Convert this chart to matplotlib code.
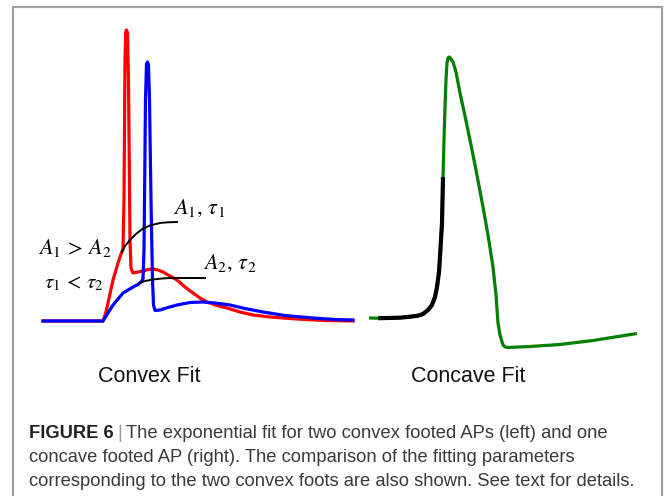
#!/usr/bin/env python3
"""Exponential fits to convex and concave AP feet (Figure 6 redraw)."""

import matplotlib

matplotlib.use("Agg")
import matplotlib.pyplot as plt
from matplotlib import font_manager
from matplotlib.patches import Rectangle

# left panel: time (a.u.) and height above rest (a.u.)
red_t = [0, 60, 63, 65, 70, 75, 78, 80, 81, 82, 82.7, 83.5, 84.5, 85.5, 87, 88, 90,
         95, 100, 105, 110, 115, 120, 127, 134, 142, 150, 157, 164, 174, 184, 197,
         210, 227, 254, 282, 310]
red_v = [0, 0, 9, 18, 41, 58, 67, 72, 121, 261, 289, 291, 288, 241, 81, 53, 48,
         49, 50, 51.5, 52, 51, 49, 45, 41, 34, 28, 23, 19, 15.5, 13, 9, 6, 4, 2, 0.5, 0]
blue_t = [0, 60, 65, 70, 75, 80, 85, 90, 95, 98, 100, 101, 102.5, 103.5, 104.5,
          105.5, 106.5, 108, 109.5, 110.5, 112, 117, 125, 134, 147, 160, 172, 187,
          202, 220, 242, 270, 292, 310]
blue_v = [0, 0, 8, 16, 22, 28, 31, 34, 36.5, 39, 42, 71, 221, 257, 259, 256, 221,
          121, 41, 16, 10.5, 11, 13.5, 16, 18.5, 19, 18, 16, 12.5, 9, 5.5, 3, 1.5, 1]
fit1_t = [79, 82, 87, 93, 100, 107, 117, 125, 134]
fit1_v = [69, 75, 81, 87, 92.5, 95.5, 98, 98.7, 99]
fit2_t = [97, 102, 110, 119, 127, 142, 162]
fit2_v = [38, 40, 41.5, 42.5, 43, 43, 43]

# right panel
green_t = [0, 9, 31, 41, 49, 54, 59, 63, 66, 68, 70, 71, 72, 73, 74, 75, 76, 77,
           78, 79, 80, 81, 82, 84, 87, 91, 96, 101, 107, 114, 119, 124, 127, 129,
           131, 134, 136, 139, 161, 191, 224, 246, 268]
green_v = [0, -0.2, 0.3, 1.3, 2.3, 4, 8, 13, 21, 31, 46, 61, 78, 95, 141, 178, 211,
           238, 255, 260, 261, 260.5, 259, 256, 246, 225, 202, 178, 148, 111, 83, 51,
           23, -5, -17, -27, -29, -29.5, -28.5, -26.5, -22.5, -19, -15.5]
foot_start, foot_end = 1, 15  # slice of green drawn as the black concave fit

labels = {
    "a1": r"$A_1,\,\tau_1$",
    "a2": r"$A_2,\,\tau_2$",
    "cmp_a": r"$A_1\,>\,A_2$",
    "cmp_t": r"$\tau_1\,<\,\tau_2$",
}
panel_titles = ["Convex Fit", "Concave Fit"]
caption_bold = "FIGURE 6"
caption_lines = [
    "The exponential fit for two convex footed APs (left) and one",
    "concave footed AP (right). The comparison of the fitting parameters",
    "corresponding to the two convex foots are also shown. See text for details.",
]

W, H = 665, 496
plt.rcParams["mathtext.fontset"] = "stix"


def pick_font(names):
    for name in names:
        try:
            font_manager.findfont(name, fallback_to_default=False)
            return name
        except ValueError:
            continue
    return "DejaVu Sans"


sans = pick_font(["Liberation Sans", "Arial", "DejaVu Sans"])


def px_axes(fig, x0, x1, y0, y1):
    """Axes placed by pixel box (y measured from top)."""
    ax = fig.add_axes([x0 / W, 1 - y1 / H, (x1 - x0) / W, (y1 - y0) / H])
    ax.set_axis_off()
    return ax


fig = plt.figure(figsize=(W / 100, H / 100), dpi=100)

# outer frame, open at the bottom
fig.patches.append(Rectangle((12.5 / W, -0.05), (662 - 12.5) / W, 1.05 - 7 / H,
                             transform=fig.transFigure, fill=False,
                             edgecolor="#a0a0a0", linewidth=1.6))

# left panel: origin at pixel (43, 321)
ax = px_axes(fig, 30, 370, 15, 335)
ax.set_xlim(30 - 43, 370 - 43)
ax.set_ylim(321 - 335, 321 - 15)
ax.plot(red_t, red_v, color="#ff0000", linewidth=2.3, solid_joinstyle="round")
ax.plot(blue_t, blue_v, color="#0000ff", linewidth=2.3, solid_joinstyle="round")
ax.plot(fit1_t, fit1_v, color="black", linewidth=1.4)
ax.plot(fit2_t, fit2_v, color="black", linewidth=1.4)

mfs = 16
ax.text(130, 113, labels["a1"], fontsize=mfs, ha="left", va="center")
ax.text(160, 58, labels["a2"], fontsize=mfs, ha="left", va="center")
ax.text(-5, 73, labels["cmp_a"], fontsize=mfs, ha="left", va="center")
ax.text(1, 38, labels["cmp_t"], fontsize=15, ha="left", va="center")

# right panel: origin at pixel (369, 318)
ax2 = px_axes(fig, 355, 655, 15, 360)
ax2.set_xlim(355 - 369, 655 - 369)
ax2.set_ylim(318 - 360, 318 - 15)
ax2.plot(green_t, green_v, color="#008000", linewidth=2.3, solid_capstyle="butt")
ax2.plot(green_t[foot_start:foot_end], green_v[foot_start:foot_end], color="black",
         linewidth=3.0, solid_capstyle="butt")

for title, xc in zip(panel_titles, [149, 468]):
    fig.text(xc / W, 1 - 376 / H, title, fontsize=15.5, family=sans,
             ha="center", va="center", color="#111111")

# caption
cap_fs = 13.2
cap_color = "#3a3a3a"
y0 = 438
t0 = fig.text(29 / W, 1 - y0 / H, caption_bold, fontsize=cap_fs, family=sans,
              fontweight="bold", color="#222222", ha="left", va="baseline")
fig.canvas.draw()
bb = t0.get_window_extent()
bar = fig.text((bb.x1 + 4) / W, 1 - y0 / H, "|", fontsize=cap_fs, family=sans,
               color="#9a9a9a", ha="left", va="baseline")
fig.canvas.draw()
bb = bar.get_window_extent()
fig.text((bb.x1 + 4) / W, 1 - y0 / H, caption_lines[0], fontsize=cap_fs,
         family=sans, color=cap_color, ha="left", va="baseline")
for i, line in enumerate(caption_lines[1:], start=1):
    fig.text(29 / W, 1 - (y0 + 24 * i) / H, line, fontsize=cap_fs, family=sans,
             color=cap_color, ha="left", va="baseline")

fig.savefig("out.png", dpi=100, facecolor="white")
plt.close(fig)
